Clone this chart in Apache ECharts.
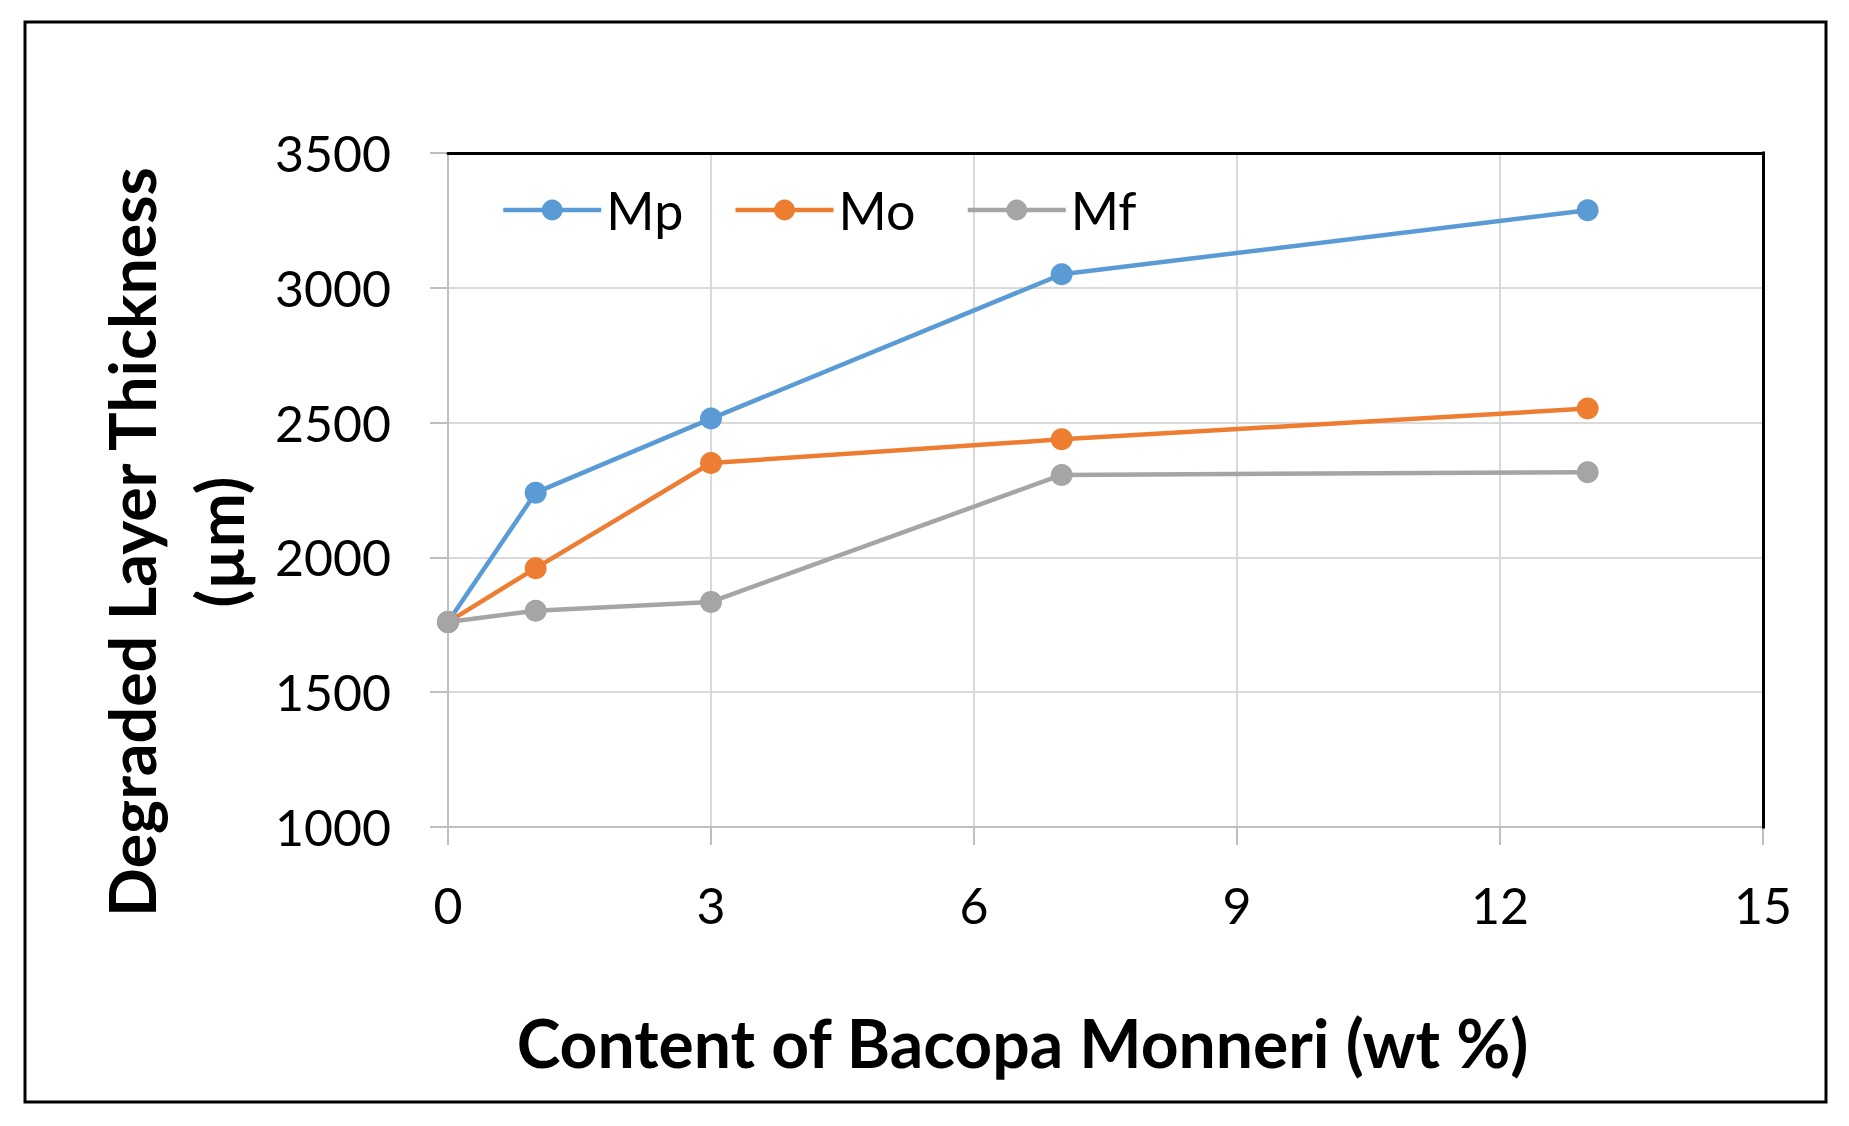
<!DOCTYPE html>
<html>
<head>
<meta charset="utf-8">
<script src="https://cdn.jsdelivr.net/npm/echarts@6/dist/echarts.min.js"></script>
<style>
html,body{margin:0;padding:0;background:#fff;}
#chart{width:1849px;height:1126px;}
</style>
</head>
<body>
<div id="chart"></div>
<script>
var contentWt = [0, 1, 3, 7, 13];
var mpValues = [1760, 2240, 2515, 3050, 3288];
var moValues = [1760, 1960, 2350, 2438, 2552];
var mfValues = [1760, 1802, 1835, 2306, 2316];
var seriesNames = ['Mp', 'Mo', 'Mf'];
var seriesColors = ['#5B9BD5', '#ED7D31', '#A5A5A5'];
var xTitle = 'Content of Bacopa Monneri (wt %)';
var yTitle = 'Degraded Layer Thickness\n(µm)';

function pairs(xs, ys) { return xs.map(function (x, i) { return [x, ys[i]]; }); }
var allValues = [mpValues, moValues, mfValues];

var chart = echarts.init(document.getElementById('chart'), null, {renderer: 'svg'});
var font = 'Lato';
var gridColor = '#d9d9d9';
var axisColor = '#bfbfbf';

var option = {
  backgroundColor: '#fff',
  animation: false,
  color: seriesColors,
  grid: {left: 448, right: 86, top: 153, bottom: 299, containLabel: false},
  legend: {
    data: seriesNames,
    left: 496, top: 179,
    itemWidth: 98, itemHeight: 26, itemGap: 50,
    lineStyle: {width: 4.5},
    textStyle: {fontFamily: font, fontSize: 52, color: '#000'}
  },
  xAxis: [{
    type: 'value', min: 0, max: 15, interval: 3,
    name: xTitle, nameLocation: 'middle', nameGap: 182,
    nameTextStyle: {fontFamily: font, fontWeight: 'bold', fontSize: 66, color: '#000', padding: [0, 166, 0, 0]},
    axisLine: {show: true, onZero: false, lineStyle: {color: axisColor, width: 2}},
    axisTick: {show: true, length: 18, lineStyle: {color: axisColor, width: 2}},
    axisLabel: {fontFamily: font, fontSize: 50, color: '#000', margin: 53},
    splitLine: {show: true, lineStyle: {color: gridColor, width: 2}}
  }, {
    type: 'value', position: 'top', min: 0, max: 15, interval: 3, z: 5,
    axisLine: {show: true, onZero: false, lineStyle: {color: '#000', width: 3}},
    axisTick: {show: false}, axisLabel: {show: false}, splitLine: {show: false}
  }],
  yAxis: [{
    type: 'value', position: 'left', min: 1000, max: 3500, interval: 500,
    name: yTitle, nameLocation: 'middle', nameGap: 185,
    nameTextStyle: {fontFamily: font, fontWeight: 'bold', fontSize: 64.5, color: '#000', lineHeight: 88, padding: [0, 104, 0, 0]},
    axisLine: {show: true, onZero: false, lineStyle: {color: axisColor, width: 2}},
    axisTick: {show: true, length: 18, lineStyle: {color: axisColor, width: 2}},
    axisLabel: {fontFamily: font, fontSize: 50, color: '#000', margin: 57,
      formatter: function (v) { return String(v); }},
    splitLine: {show: true, lineStyle: {color: gridColor, width: 2}}
  }, {
    type: 'value', position: 'right', min: 1000, max: 3500, interval: 500, z: 5,
    axisLine: {show: true, onZero: false, lineStyle: {color: '#000', width: 3, cap: 'square'}},
    axisTick: {show: false}, axisLabel: {show: false}, splitLine: {show: false}
  }],
  graphic: [{
    type: 'rect', silent: true, z: -1,
    shape: {x: 25, y: 22, width: 1801, height: 1080},
    style: {fill: 'none', stroke: '#000', lineWidth: 3}
  }],
  series: seriesNames.map(function (n, i) {
    return {
      name: n, type: 'line', xAxisIndex: 0, yAxisIndex: 0,
      data: pairs(contentWt, allValues[i]),
      symbol: 'circle', symbolSize: 22,
      lineStyle: {width: 4.5, color: seriesColors[i]},
      itemStyle: {color: seriesColors[i]}
    };
  })
};
chart.setOption(option);
</script>
</body>
</html>
